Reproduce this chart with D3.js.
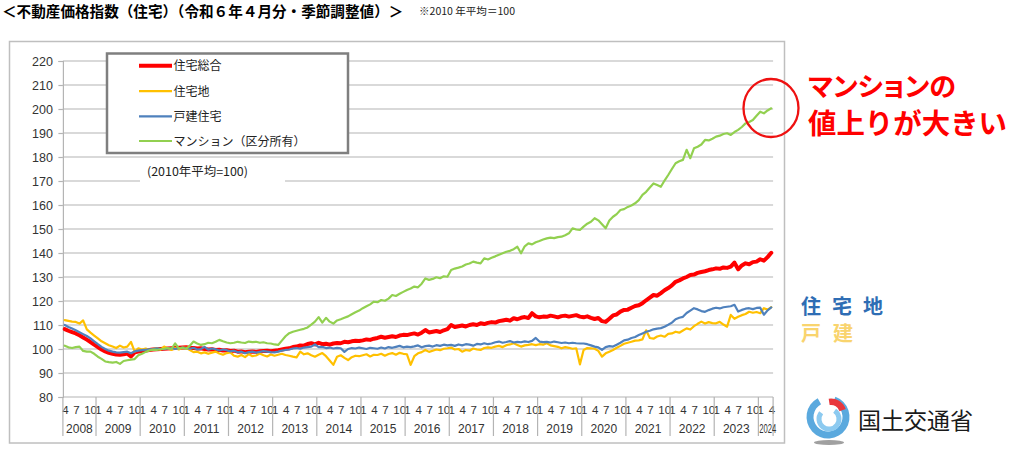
<!DOCTYPE html>
<html><head><meta charset="utf-8">
<script src="https://cdn.jsdelivr.net/npm/d3@7"></script>
<style>
html,body{margin:0;padding:0;background:#fff;}
svg{display:block;}
</style></head>
<body>
<svg id="chart" width="1012" height="452"></svg>
<script>
// ---------- DATA ----------
const startYear = 2008, startMonth = 4, nPoints = 193;
const seriesNames = ["住宅総合", "住宅地", "戸建住宅", "マンション（区分所有）"];
const seriesColors = ["#ff0000", "#ffc000", "#4f81bd", "#92d050"];
const yTicks = [80, 90, 100, 110, 120, 130, 140, 150, 160, 170, 180, 190, 200, 210, 220];
const monthTickLabels = ["1", "4", "7", "10"];
const yearLabels = ["2008","2009","2010","2011","2012","2013","2014","2015","2016","2017","2018","2019","2020","2021","2022","2023","2024"];

const total = [ // 住宅総合
 108.3,107.6,107.0,106.5,105.7,104.8,103.9,102.9,101.8,
 100.8,99.8,99.0,98.4,98.0,97.7,97.6,97.8,98.1,96.9,98.6,98.9,
 99.2,99.4,99.6,99.8,99.9,100.0,100.1,100.2,100.3,100.4,100.5,100.6,
 100.7,100.5,100.4,100.2,100.3,100.0,99.8,99.9,99.6,99.7,99.4,99.5,
 99.2,99.3,98.9,99.0,98.7,98.9,99.0,98.8,99.1,99.2,99.3,99.1,
 99.3,99.5,99.8,100.1,100.3,100.8,101.0,101.5,101.4,102.1,102.4,101.9,
 102.6,102.0,102.2,101.8,102.3,102.5,102.4,103.0,102.8,103.2,103.4,103.3,
 103.6,104.0,103.8,104.3,104.6,105.1,104.7,105.0,105.3,105.0,105.6,105.9,
 105.8,106.2,106.5,106.0,106.8,107.9,106.9,107.2,107.5,107.1,107.8,108.3,
 110.0,109.2,109.5,109.8,109.4,110.0,110.3,110.0,110.7,110.4,110.9,111.2,
 111.0,111.6,111.9,112.2,111.8,112.8,112.4,113.0,113.3,112.9,114.9,113.6,
 113.2,113.5,113.4,113.9,113.6,113.2,113.7,113.9,113.5,113.8,114.1,113.5,
 113.2,113.6,113.0,112.5,112.9,111.6,111.3,112.6,114.0,114.4,115.6,116.3,
 116.4,117.2,117.9,118.2,119.1,120.3,121.4,122.5,122.2,123.3,124.5,125.4,
 126.5,128.0,128.6,129.4,130.0,130.8,131.0,131.7,132.1,132.4,132.9,133.2,
 133.6,133.4,134.0,133.8,134.3,136.0,133.2,134.8,135.7,135.3,136.2,136.4,
 137.4,136.8,138.3,140.1
];
const land = [ // 住宅地
 112.0,111.7,111.4,111.3,110.6,111.9,108.2,106.8,105.6,
 104.4,103.2,102.4,101.6,101.0,100.4,101.4,100.6,101.0,103.0,98.9,100.3,
 99.8,100.2,99.6,100.0,100.3,99.7,101.0,100.2,99.6,100.4,99.8,100.6,
 100.5,99.6,98.7,98.9,98.2,98.6,98.0,98.5,98.9,98.1,97.6,98.3,
 98.6,97.2,96.8,97.5,96.6,97.9,97.0,97.3,98.1,97.4,96.9,97.7,
 97.2,97.6,98.0,97.5,97.2,96.8,96.5,98.9,97.8,98.2,97.4,96.8,
 97.6,98.3,97.0,95.2,93.4,96.8,97.4,96.3,95.4,96.6,97.2,97.0,
 97.4,97.8,96.9,97.6,97.5,98.0,97.2,97.9,98.3,97.6,98.4,98.0,
 97.8,93.4,97.0,98.2,98.7,99.6,98.8,99.3,99.8,99.5,100.1,100.3,
 100.6,99.8,100.0,98.9,99.6,99.3,100.2,99.8,99.6,100.4,100.7,100.5,
 101.0,101.3,100.8,101.6,101.9,102.4,101.7,101.0,101.5,101.7,102.0,101.6,
 102.0,101.8,102.4,101.5,101.2,100.9,100.3,100.8,100.5,100.1,100.3,93.6,
 99.6,100.4,100.3,100.1,99.2,96.8,98.2,98.9,99.6,100.5,101.3,102.2,
 102.6,103.0,103.5,103.6,104.0,107.8,104.6,104.3,105.2,105.6,105.1,106.3,
 106.5,107.2,106.8,107.7,108.6,108.1,109.5,110.5,111.4,110.6,111.2,110.8,
 110.7,111.3,110.2,109.3,114.2,112.6,113.4,114.1,114.6,115.5,115.1,115.4,
 114.9,117.0,116.4,117.4
];
const detached = [ // 戸建住宅
 110.0,109.2,108.5,107.8,107.0,106.2,105.4,104.4,103.2,
 102.0,100.9,100.0,99.3,98.9,98.6,98.5,98.7,98.9,98.2,99.0,99.3,
 99.5,99.7,99.9,100.0,100.3,100.1,99.9,100.2,100.4,100.0,100.3,100.6,
 100.3,100.1,100.5,99.8,100.0,100.9,99.7,100.2,99.9,99.4,99.8,99.5,
 99.0,99.3,98.6,98.9,98.2,98.7,98.9,98.5,98.8,99.1,98.9,98.7,
 98.6,98.9,99.3,99.6,99.8,100.2,100.4,100.1,100.6,100.8,101.0,101.9,
 100.8,100.9,100.4,100.6,100.2,100.5,100.3,98.8,100.0,100.4,100.2,100.6,
 100.3,100.0,100.5,100.3,100.1,100.6,100.2,100.8,100.5,100.9,101.3,100.7,
 101.0,100.8,101.1,101.5,100.7,101.2,101.4,101.0,101.6,101.3,101.8,101.5,
 101.7,101.3,101.9,101.5,102.0,101.8,101.4,102.1,101.9,102.4,102.0,102.3,
 102.8,103.1,102.6,102.9,103.3,102.7,103.0,102.8,103.2,102.9,103.4,104.6,
 103.1,102.9,103.0,102.7,103.1,102.8,102.5,102.7,102.4,102.6,102.4,102.3,
 102.3,102.0,101.5,101.0,100.7,99.6,100.8,101.2,101.0,101.8,102.6,103.6,
 103.9,104.6,105.0,105.8,106.5,107.2,107.6,108.2,108.5,108.7,109.3,110.1,
 111.0,112.4,113.0,113.4,115.0,116.0,117.0,116.5,115.8,115.5,116.2,116.8,
 117.2,116.9,117.4,117.6,117.8,118.4,115.6,116.3,116.8,117.0,116.6,117.1,
 117.2,114.3,116.1,117.3
];
const condo = [ // マンション（区分所有）
 101.4,100.7,100.4,100.8,101.0,99.2,98.9,98.9,98.0,
 96.8,95.9,94.8,94.5,94.3,94.6,93.8,95.0,95.3,95.6,95.8,97.4,
 98.0,98.8,99.4,99.7,99.6,99.9,100.1,100.4,100.0,102.3,100.2,100.5,
 100.0,101.4,103.1,102.3,101.7,102.0,102.6,102.4,103.0,103.8,103.2,102.7,
 102.4,102.6,103.0,102.7,102.5,103.1,102.9,103.0,102.6,102.8,102.4,102.3,
 101.9,101.7,103.5,105.3,106.6,107.2,107.6,108.0,108.4,109.0,110.2,111.4,
 113.3,111.0,113.0,111.4,110.6,111.9,112.4,113.0,113.6,114.5,115.3,116.0,
 117.0,117.8,118.6,119.7,119.5,120.4,120.1,121.0,122.5,122.1,123.0,123.8,
 124.6,125.2,126.0,125.7,127.2,129.4,128.8,129.2,129.9,129.5,130.3,130.1,
 132.9,133.5,133.9,134.4,135.2,135.6,136.4,136.0,135.7,137.8,137.3,138.0,
 138.6,139.3,139.9,140.5,140.9,141.6,142.6,139.9,142.8,144.0,143.6,144.5,
 145.0,145.6,146.1,146.4,146.2,146.6,146.8,147.4,148.2,150.3,149.8,149.6,
 151.0,152.2,153.0,154.5,153.6,152.0,150.3,153.5,155.1,156.2,157.9,158.3,
 159.2,159.8,160.7,162.0,164.2,165.5,167.3,169.0,168.3,167.6,170.2,172.5,
 175.0,177.4,178.2,178.8,183.0,179.5,183.6,184.3,185.2,187.1,186.9,187.6,
 188.5,188.9,189.6,189.9,189.2,190.4,191.3,192.5,194.0,194.6,195.4,197.2,
 198.9,198.2,199.4,200.3
];
const seriesValues = [total, land, detached, condo];

// categories (year, month) for each point
const categories = [];
for (let k = 0; k < nPoints; k++) {
  const m0 = startMonth - 1 + k;
  categories.push({year: startYear + Math.floor(m0 / 12), month: (m0 % 12) + 1});
}

// ---------- DRAW ----------
const svg = d3.select("#chart");
const CJK = "'Noto Sans CJK JP','Noto Sans',sans-serif";
const NUM = "'Liberation Sans Narrow','Liberation Sans',Arial,sans-serif";

const x = d3.scaleBand().domain(d3.range(nPoints)).range([62.9, 773.1]).paddingInner(0).paddingOuter(0);
const y = d3.scaleLinear().domain([80, 220]).range([397, 61]);
const cx = i => x(i) + x.bandwidth() / 2;

// outer frame
svg.append("rect").attr("x", 9.5).attr("y", 41.5).attr("width", 775).attr("height", 401.5)
  .attr("fill", "none").attr("stroke", "#bfbfbf").attr("stroke-width", 1.5);

// grid
svg.append("g").selectAll("line").data(yTicks).join("line")
  .attr("x1", x.range()[0]).attr("x2", x.range()[1])
  .attr("y1", d => y(d)).attr("y2", d => y(d))
  .attr("stroke", "#b4b4b4").attr("stroke-width", 1.2);

// y axis
const yAxis = d3.axisLeft(y).tickValues(yTicks).tickSize(4.5).tickPadding(5.5);
const gy = svg.append("g").attr("transform", `translate(${x.range()[0]},0)`).call(yAxis);
gy.select(".domain").attr("stroke", "#b4b4b4").attr("stroke-width", 1.2);
gy.selectAll(".tick line").attr("stroke", "#b4b4b4").attr("stroke-width", 1.2);
gy.selectAll(".tick text").attr("font-family", NUM).attr("font-size", 12.5).attr("fill", "#333");

// x axis: month labels, year separators, year labels
const gx = svg.append("g");
const monthIdx = d3.range(nPoints).filter(i => monthTickLabels.includes(String(categories[i].month)));
gx.selectAll("text.m").data(monthIdx).join("text").attr("class", "m")
  .attr("x", i => cx(i) - 2.6).attr("y", 414)
  .attr("font-family", NUM).attr("font-size", 11.5).attr("fill", "#333")
  .text(i => String(categories[i].month));

const boundaries = [0];
for (let i = 1; i < nPoints; i++) if (categories[i].year !== categories[i - 1].year) boundaries.push(i);
const bx = k => (k < nPoints ? x(k) : x.range()[1]);
const bList = boundaries.concat([nPoints]);
gx.selectAll("line.sep").data(bList).join("line").attr("class", "sep")
  .attr("x1", k => bx(k)).attr("x2", k => bx(k)).attr("y1", 397).attr("y2", 436)
  .attr("stroke", "#b4b4b4").attr("stroke-width", 1.2);

yearLabels.forEach((lab, j) => {
  const a = bx(bList[j]), b = bx(bList[j + 1]);
  const t = gx.append("text").attr("y", 433).attr("font-family", NUM).attr("font-size", 12).attr("fill", "#333").text(lab);
  if (b - a > 30) t.attr("x", (a + b) / 2).attr("text-anchor", "middle");
  else t.attr("x", a + 0.8).attr("textLength", 17).attr("lengthAdjust", "spacingAndGlyphs");
});

// lines
const line = d3.line().x((d, i) => cx(i)).y(d => y(d));
const widths = [4, 2.2, 2.2, 2.2];
seriesValues.forEach((vals, s) => {
  svg.append("path").datum(vals).attr("d", line).attr("fill", "none")
    .attr("stroke", seriesColors[s]).attr("stroke-width", widths[s])
    .attr("stroke-linejoin", "round").attr("stroke-linecap", "round");
});

// legend
const lg = svg.append("g");
lg.append("rect").attr("x", 107).attr("y", 53.5).attr("width", 241).attr("height", 99.5)
  .attr("fill", "#fff").attr("stroke", "#7f7f7f").attr("stroke-width", 2.5);
const legY = [65.7, 91.2, 116.4, 141];
seriesNames.forEach((n, s) => {
  lg.append("line").attr("x1", 139).attr("x2", 172).attr("y1", legY[s]).attr("y2", legY[s])
    .attr("stroke", seriesColors[s]).attr("stroke-width", widths[s]);
  lg.append("text").attr("x", 173.5).attr("y", legY[s] + 4.6).attr("font-family", CJK)
    .attr("font-size", 12).attr("fill", "#222").text(n);
});

// base note
svg.append("rect").attr("x", 140).attr("y", 160).attr("width", 145).attr("height", 24).attr("fill", "#fff");
svg.append("text").attr("x", 147).attr("y", 176).attr("font-family", CJK).attr("font-size", 12)
  .attr("fill", "#222").attr("textLength", 101).attr("lengthAdjust", "spacingAndGlyphs").text("(2010年平均=100)");

// title
svg.append("text").attr("x", 2).attr("y", 16.5).attr("font-family", CJK).attr("font-weight", "bold")
  .attr("font-size", 14.6).attr("fill", "#000")
  .text("＜不動産価格指数（住宅）（令和６年４月分・季節調整値）＞");
svg.append("text").attr("x", 419).attr("y", 14.5).attr("font-family", CJK).attr("font-size", 10)
  .attr("fill", "#222").attr("textLength", 96).attr("lengthAdjust", "spacingAndGlyphs").text("※2010 年平均＝100");

// annotation
svg.append("ellipse").attr("cx", 771).attr("cy", 108).attr("rx", 27.5).attr("ry", 29)
  .attr("fill", "none").attr("stroke", "#ee1111").attr("stroke-width", 2.3);
svg.append("text").attr("x", 808).attr("y", 96).attr("font-family", CJK).attr("font-weight", "bold")
  .attr("font-size", 26.5).attr("fill", "#ff0000").attr("textLength", 148).attr("lengthAdjust", "spacingAndGlyphs")
  .style("font-feature-settings", "'palt'").text("マンションの");
svg.append("text").attr("x", 808).attr("y", 133.5).attr("font-family", CJK).attr("font-weight", "bold")
  .attr("font-size", 28).attr("fill", "#ff0000").attr("textLength", 199).attr("lengthAdjust", "spacingAndGlyphs")
  .text("値上りが大きい");

// side labels
svg.append("text").attr("x", 801).attr("y", 313.5).attr("font-family", CJK).attr("font-weight", "bold")
  .attr("font-size", 20).attr("fill", "#2e6db4").attr("textLength", 82).attr("lengthAdjust", "spacing").text("住宅地");
svg.append("text").attr("x", 801).attr("y", 340.5).attr("font-family", CJK).attr("font-weight", "bold")
  .attr("font-size", 20).attr("fill", "#f9d46e").attr("textLength", 52).attr("lengthAdjust", "spacing").text("戸建");

// logo
const logo = svg.append("g");
logo.append("ellipse").attr("cx", 829).attr("cy", 442.5).attr("rx", 15).attr("ry", 2.6).attr("fill", "#a0a0a0");
const arcG = d3.arc();
logo.append("path").attr("transform", "translate(828,417)")
  .attr("d", arcG({innerRadius: 14.5, outerRadius: 21.5, startAngle: 0.35, endAngle: 2 * Math.PI - 0.5}))
  .attr("fill", "#5aa9de");
logo.append("path").attr("transform", "translate(829,419)")
  .attr("d", arcG({innerRadius: 7.5, outerRadius: 12.5, startAngle: 0.6, endAngle: 2 * Math.PI - 0.9}))
  .attr("fill", "#8ccaf0");
logo.append("path").attr("transform", "translate(831,414)")
  .attr("d", arcG({innerRadius: 9, outerRadius: 15.5, startAngle: -0.15, endAngle: 1.25}))
  .attr("fill", "#e8383d");
svg.append("text").attr("x", 858).attr("y", 429).attr("font-family", CJK)
  .attr("font-size", 23).attr("fill", "#1a1a1a").attr("textLength", 115).attr("lengthAdjust", "spacingAndGlyphs")
  .text("国土交通省");
</script>
</body></html>
